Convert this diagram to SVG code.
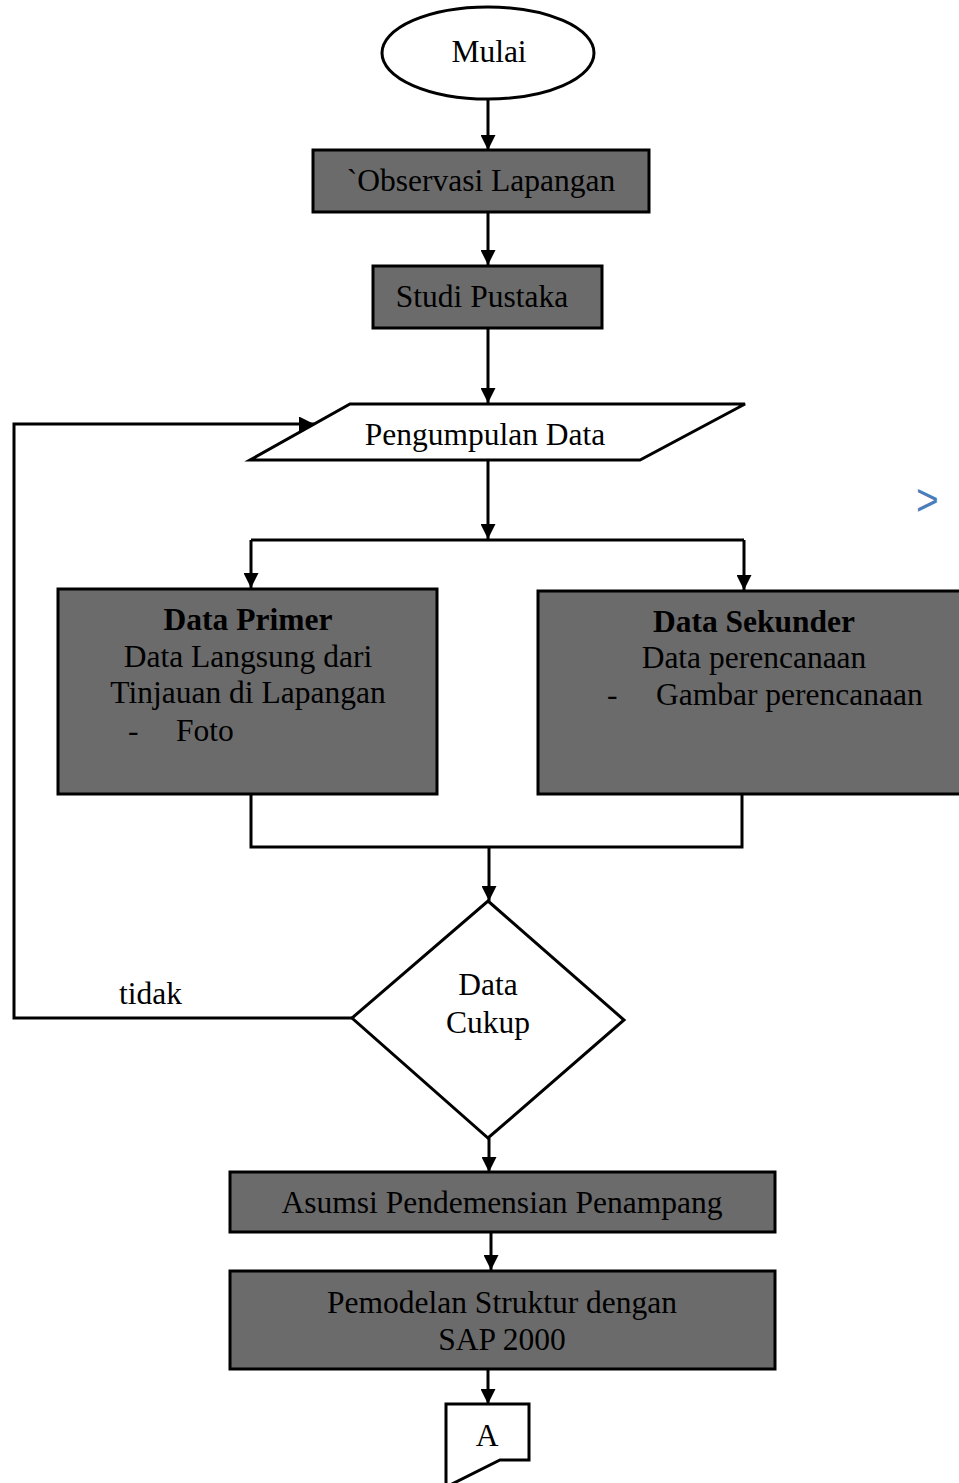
<svg xmlns="http://www.w3.org/2000/svg" width="959" height="1483" viewBox="0 0 959 1483">
<defs>
<marker id="ah" viewBox="0 0 15 15" refX="15" refY="7.5" markerWidth="15" markerHeight="15" markerUnits="userSpaceOnUse" orient="auto">
<path d="M0,0 L15,7.5 L0,15 Z" fill="#000"/>
</marker>
<style>
.t{font-family:"Liberation Serif","Times New Roman",serif;font-size:31.5px;fill:#000}
.c{text-anchor:middle}
.b{font-weight:bold}
.box{fill:#6b6b6b;stroke:#000;stroke-width:3}
.wh{fill:#fff;stroke:#000;stroke-width:3}
.ln{fill:none;stroke:#000;stroke-width:3}
.ar{fill:none;stroke:#000;stroke-width:3;marker-end:url(#ah)}
</style>
</defs>
<rect width="959" height="1483" fill="#fff"/>
<g id="connectors">
<line class="ar" x1="488" y1="99" x2="488" y2="150"/>
<line class="ar" x1="488" y1="212" x2="488" y2="265"/>
<line class="ar" x1="488" y1="328" x2="488" y2="403"/>
<line class="ar" x1="488" y1="460" x2="488" y2="539"/>
<polyline class="ln" points="251,540 744,540"/>
<line class="ar" x1="251" y1="540" x2="251" y2="588"/>
<line class="ar" x1="744" y1="540" x2="744" y2="590"/>
<polyline class="ln" points="251,794 251,847 742,847 742,794"/>
<line class="ar" x1="489" y1="847" x2="489" y2="901"/>
<polyline class="ar" points="352,1018 14,1018 14,424 314,424"/>
<line class="ar" x1="489" y1="1138" x2="489" y2="1172"/>
<line class="ar" x1="491" y1="1232" x2="491" y2="1270"/>
<line class="ar" x1="488" y1="1369" x2="488" y2="1404"/>
</g>
<g id="mulai">
<ellipse class="wh" cx="488" cy="53" rx="106" ry="46"/>
<text class="t c" x="489" y="62">Mulai</text>
</g>
<g id="observasi">
<rect class="box" x="313" y="150" width="336" height="62"/>
<text class="t c" x="481" y="191">`Observasi Lapangan</text>
</g>
<g id="studi">
<rect class="box" x="373" y="266" width="229" height="62"/>
<text class="t c" x="482" y="307">Studi Pustaka</text>
</g>
<g id="pengumpulan">
<polygon class="wh" points="350,404 745,404 640,460 250,460"/>
<text class="t c" x="485" y="445">Pengumpulan Data</text>
</g>
<g id="primer">
<rect class="box" x="58" y="589" width="379" height="205"/>
<text class="t c b" x="248" y="630">Data Primer</text>
<text class="t c" x="248" y="667">Data Langsung dari</text>
<text class="t c" x="248" y="703">Tinjauan di Lapangan</text>
<text class="t" x="128" y="741">-</text>
<text class="t" x="176" y="741">Foto</text>
</g>
<g id="sekunder">
<rect class="box" x="538" y="591" width="424" height="203"/>
<text class="t c b" x="754" y="632">Data Sekunder</text>
<text class="t c" x="754" y="668">Data perencanaan</text>
<text class="t" x="607" y="705">-</text>
<text class="t" x="656" y="705">Gambar perencanaan</text>
</g>
<g id="cukup">
<polygon class="wh" points="488,901 624,1020 488,1138 352,1018"/>
<text class="t c" x="488" y="995">Data</text>
<text class="t c" x="488" y="1033">Cukup</text>
</g>
<g id="tidak-label">
<text class="t" x="119" y="1004">tidak</text>
</g>
<g id="asumsi">
<rect class="box" x="230" y="1172" width="545" height="60"/>
<text class="t c" x="502" y="1213">Asumsi Pendemensian Penampang</text>
</g>
<g id="pemodelan">
<rect class="box" x="230" y="1271" width="545" height="98"/>
<text class="t c" x="502" y="1313">Pemodelan Struktur dengan</text>
<text class="t c" x="502" y="1350">SAP 2000</text>
</g>
<g id="offpage-a">
<path class="wh" d="M446,1486 L446,1404 L529,1404 L529,1460 L500,1460 L448,1486"/>
<text class="t c" x="487" y="1446">A</text>
</g>
<g id="chevron">
<text transform="translate(916,515) scale(0.88,1)" x="0" y="0" style="font-family:'Liberation Sans',Arial,sans-serif;font-size:44px;fill:#4a7ebb">&gt;</text>
</g>
</svg>
